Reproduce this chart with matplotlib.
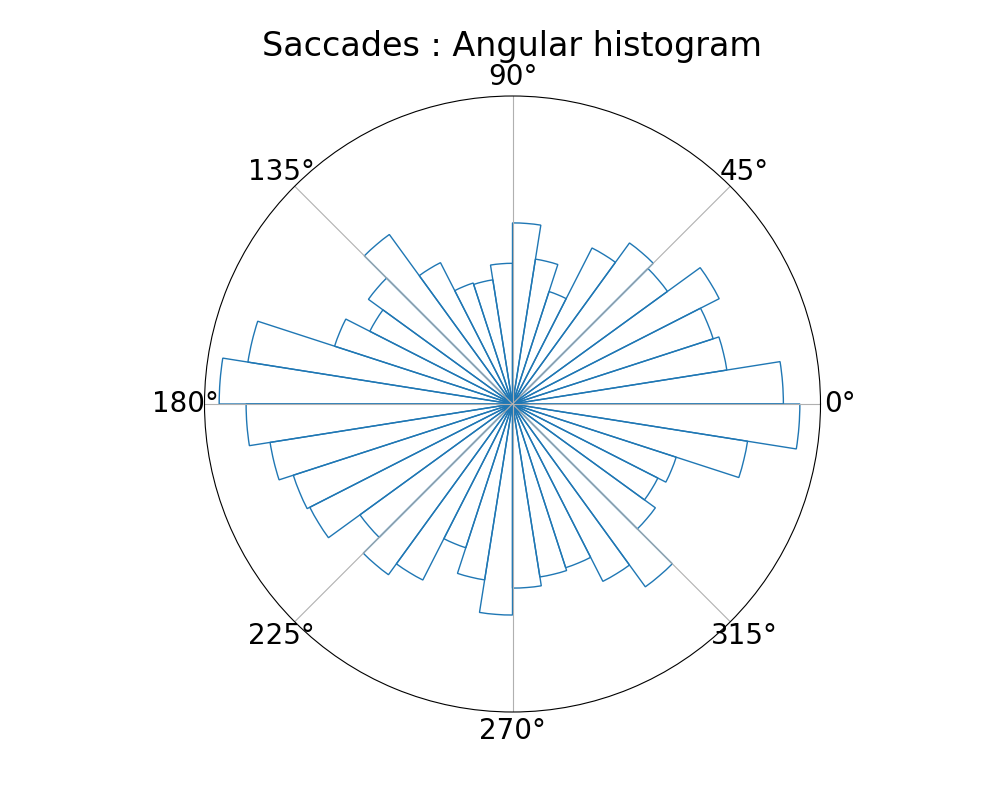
import numpy as np
import matplotlib
matplotlib.use("Agg")
import matplotlib.pyplot as plt

# 40 angular bins of 9 degrees, counts per bin (estimated)
bin_edges_deg = np.arange(0, 360, 9)
counts = [181, 145, 141, 155, 128, 133, 117, 79, 98, 121,
          94, 84, 85, 106, 140, 119, 107, 125, 179, 196,
          178, 164, 154, 152, 126, 141, 132, 101, 119, 141,
          123, 117, 115, 133, 151, 118, 109, 115, 159, 192]
title = "Saccades : Angular histogram"

fig = plt.figure(figsize=(10, 8), dpi=100)
ax = fig.add_subplot(111, projection="polar")
theta = np.deg2rad(bin_edges_deg)
width = np.deg2rad(9)
ax.bar(theta, counts, width=width, align="edge", facecolor="none",
       edgecolor="C0", linewidth=1)
ax.set_ylim(0, max(counts) * 1.05)
ax.set_yticks([])
ax.tick_params(axis="x", labelsize=20)
ax.set_title(title, fontsize=24, pad=4)
fig.savefig("out.png", dpi=100)
